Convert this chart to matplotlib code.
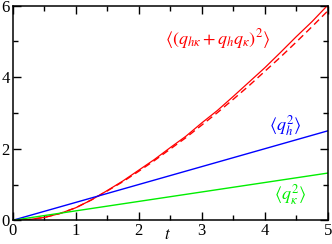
import matplotlib
matplotlib.use("Agg")
import matplotlib.pyplot as plt
from matplotlib.ticker import MultipleLocator

plt.rcParams['font.family'] = ['Liberation Serif', 'DejaVu Serif']
plt.rcParams['mathtext.fontset'] = 'stix'

# data
t_sim = [0.0, 0.25, 0.5, 0.75, 1.0, 1.25, 1.5, 1.75, 2.0, 2.25, 2.5, 2.75,
         3.0, 3.25, 3.5, 3.75, 4.0, 4.25, 4.5, 4.75, 5.0]
red_sim = [0.0, 0.02, 0.08, 0.19, 0.35, 0.57, 0.83, 1.10, 1.40, 1.70, 2.03, 2.35,
           2.72, 3.07, 3.46, 3.86, 4.26, 4.69, 5.13, 5.55, 6.01]
t_th = [0.0, 0.25, 0.5, 0.75, 1.0, 1.25, 1.5, 1.75, 2.0, 2.25, 2.5, 2.75,
        3.0, 3.25, 3.5, 3.75, 4.0, 4.25, 4.5, 4.75, 5.0]
red_th = [0.0, 0.02, 0.08, 0.19, 0.35, 0.57, 0.82, 1.08, 1.37, 1.67, 1.99, 2.31,
          2.66, 3.01, 3.38, 3.76, 4.16, 4.56, 4.98, 5.41, 5.85]
t_lin = [0.0, 5.0]
blue_th = [0.0, 2.5]
green_th = [0.0, 1.32]

RED = '#ff0000'
BLUE = '#0000ff'
GREEN = '#00ee00'

fig = plt.figure(figsize=(3.32, 2.44), dpi=100)
ax = fig.add_axes([0.038, 0.097, 0.949, 0.88])

ax.plot(t_th, red_th, color=RED, lw=1.0, ls=(0, (5, 3)))
ax.plot(t_sim, red_sim, color=RED, lw=0.9)
ax.plot(t_lin, blue_th, color=BLUE, lw=1.0)
ax.plot(t_lin, green_th, color=GREEN, lw=1.0)

ax.text(3.26, 5.06, r'$\langle(q_{h\kappa}+q_h q_\kappa)^2\rangle$', color=RED,
        fontsize=13, ha='center', va='center')
ax.text(4.32, 2.64, r'$\langle q_h^2\rangle$', color=BLUE,
        fontsize=13, ha='center', va='center')
ax.text(4.40, 0.72, r'$\langle q_\kappa^2\rangle$', color=GREEN,
        fontsize=13, ha='center', va='center')

ax.set_xlim(0, 5)
ax.set_ylim(0, 6)
ax.xaxis.set_major_locator(MultipleLocator(1))
ax.xaxis.set_minor_locator(MultipleLocator(0.5))
ax.yaxis.set_major_locator(MultipleLocator(2))
ax.yaxis.set_minor_locator(MultipleLocator(1))
ax.tick_params(which='both', direction='in', top=True, right=True, width=1.0,
               labelsize=12, pad=2)
ax.tick_params(which='major', length=6)
ax.tick_params(which='minor', length=3.5)
for s in ax.spines.values():
    s.set_linewidth(1.1)
ax.set_xlabel(r'$t$', fontsize=12)
ax.xaxis.set_label_coords(0.49, -0.03)

fig.savefig('out.png', dpi=100)
